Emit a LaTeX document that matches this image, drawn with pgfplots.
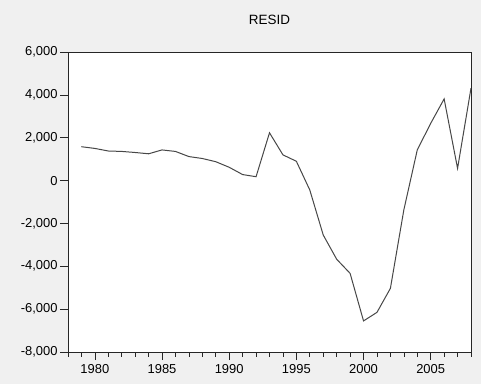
\documentclass[border=0pt]{standalone}
\usepackage{pgfplots}
\pgfplotsset{compat=1.18}
\usepackage{fontspec}
\setmainfont{Liberation Sans}
\begin{document}
\begin{tikzpicture}
\fill[black!6] (-68bp,-32bp) rectangle (413bp,352bp);
\useasboundingbox (-68bp,-32bp) rectangle (413bp,352bp);
\begin{axis}[
  at={(0,0)}, anchor=south west,
  scale only axis, width=403bp, height=300bp,
  xmin=1978, xmax=2008, ymin=-8000, ymax=6000,
  axis background/.style={fill=white},
  axis line style={black!85, line width=0.8bp},
  xtick={1980,1985,...,2005},
  minor xtick={1978,1979,...,2008},
  ytick={-8000,-6000,...,6000},
  tick align=outside, xtick pos=bottom, ytick pos=left,
  major tick length=8bp, minor tick length=4.5bp,
  tick style={black!85, line width=0.6bp},
  /pgf/number format/assume math mode=true,
  xticklabel style={font=\fontsize{13}{15}\selectfont, /pgf/number format/1000 sep={}, yshift=-1bp},
  yticklabel style={font=\fontsize{13}{15}\selectfont, /pgf/number format/1000 sep={,}, xshift=1bp},
  scaled y ticks=false,
  title={RESID},
  title style={font=\fontsize{13.5}{15}\selectfont, at={(0.5,1)}, anchor=center, yshift=26bp},
]
\addplot[black!72, line width=1bp] coordinates {
(1979,1580) (1980,1500) (1981,1380) (1982,1360) (1983,1310) (1984,1250)
(1985,1430) (1986,1360) (1987,1120) (1988,1030) (1989,880) (1990,620)
(1991,280) (1992,180) (1993,2230) (1994,1200) (1995,900) (1996,-440)
(1997,-2540) (1998,-3670) (1999,-4330) (2000,-6550) (2001,-6150) (2002,-5030)
(2003,-1370) (2004,1430) (2005,2670) (2006,3810) (2007,570) (2008,4310)
};
\end{axis}
\end{tikzpicture}
\end{document}
